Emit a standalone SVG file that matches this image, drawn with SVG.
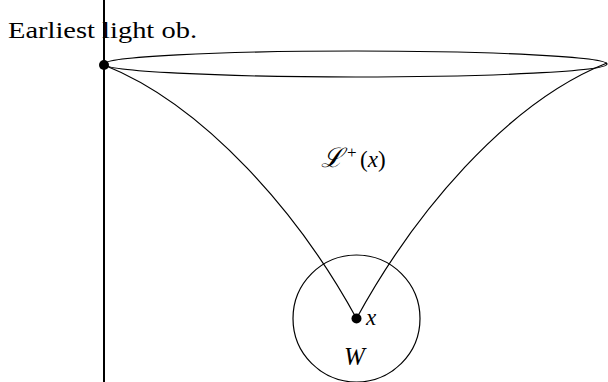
<svg xmlns="http://www.w3.org/2000/svg" width="608" height="382" viewBox="0 0 608 382">
<style>
.ln{fill:none;stroke:#000;stroke-width:1.2}
.t{font-family:"Liberation Serif","DejaVu Serif",serif;fill:#000}
.i{font-style:italic}
</style>
<rect width="608" height="382" fill="#fff"/>
<g id="observer">
<line x1="104" y1="0" x2="104" y2="382" stroke="#000" stroke-width="2"/>
<circle cx="104" cy="65" r="5" fill="#000"/>
<text class="t" x="8" y="38" font-size="23" textLength="189" lengthAdjust="spacingAndGlyphs">Earliest light ob.</text>
</g>
<g id="cone">
<ellipse class="ln" cx="355.5" cy="64" rx="251.5" ry="13"/>
<text class="t" x="321" y="167" font-size="23"><tspan class="i" font-size="27">ℒ</tspan><tspan x="347" font-size="17" dy="-9">+</tspan><tspan x="360" dy="9">(</tspan><tspan class="i">x</tspan>)</text>
</g>
<g id="connectors">
<path class="ln" d="M104,65 C205,105 300,215 356.5,318.5"/>
<path class="ln" d="M607,63 C506,103 413,215 356.5,318.5"/>
</g>
<g id="W">
<circle class="ln" cx="356.5" cy="318.5" r="63.5"/>
<circle cx="356.5" cy="318.5" r="5" fill="#000"/>
<text class="t i" x="366" y="325" font-size="23">x</text>
<text class="t i" x="344" y="365" font-size="25">W</text>
</g>
</svg>
